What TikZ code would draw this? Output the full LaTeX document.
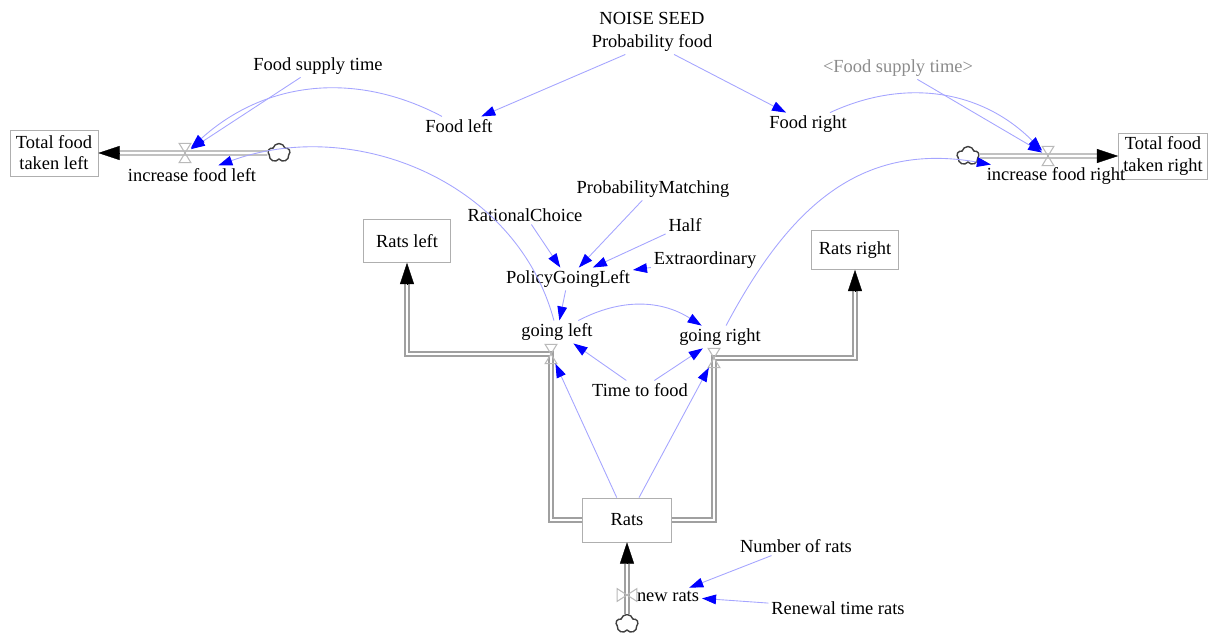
\documentclass[tikz,border=0pt]{standalone}
\usepackage{fontspec}
\setmainfont{Liberation Serif}
\usetikzlibrary{arrows.meta, shapes.symbols}

\begin{document}
\begin{tikzpicture}[
    x=0.02cm, y=0.02cm,
    every node/.style={font=\fontsize{10.5}{12}\selectfont, align=center, text=black, inner sep=1.5pt},
    stock/.style={
      rectangle, draw=stockGray, fill=white, line width=0.5pt, inner sep=2pt
    },
    pipe/.style={draw=pipeGray, double=white, double distance=1.6pt, line width=0.7pt},
    pipeTip/.style={draw=black, line width=0.2pt, -{Triangle[length=12pt, width=8pt]}},
    valveH/.style={rectangle, inner sep=0pt, minimum width=0.22cm, minimum height=0.37cm},
    valveV/.style={rectangle, inner sep=0pt, minimum width=0.38cm, minimum height=0.24cm},
    valveLine/.style={draw=valveGray, line width=0.6pt},
    source/.style={
      cloud, cloud puffs=5, cloud puff arc=150, aspect=1.15,
      draw=black!75, fill=white, line width=0.8pt, inner sep=0pt,
      minimum width=0.44cm, minimum height=0.38cm
    },
    link/.style={draw=linkBlue, line width=0.5pt,
      -{Triangle[length=8pt, width=5.5pt, color=blue, fill=blue]}},
    shadowVar/.style={text=black!45}
  ]
    \definecolor{pipeGray}{RGB}{160,160,160}
    \definecolor{stockGray}{RGB}{175,175,175}
    \definecolor{valveGray}{RGB}{185,185,185}
    \definecolor{linkBlue}{RGB}{165,165,255}

    \useasboundingbox (0,0) rectangle (1221,-635);

    \node[stock, minimum width=1.76cm, minimum height=0.92cm] (totalL) at (54,-153) {Total food\\taken left};
    \node[stock, minimum width=1.78cm, minimum height=0.92cm] (totalR) at (1163,-156) {Total food\\taken right};
    \node[stock, minimum width=1.74cm, minimum height=0.86cm] (ratsL) at (407,-241) {Rats left};
    \node[stock, minimum width=1.74cm, minimum height=0.78cm] (ratsR) at (855,-250) {Rats right};
    \node[stock, minimum width=1.78cm, minimum height=0.88cm] (rats) at (627,-520) {Rats};

    \coordinate (totalLin) at ([xshift=12pt]totalL.east);
    \coordinate (totalRin) at ([xshift=-12pt]totalR.west);
    \coordinate (ratsLin) at ([yshift=-12pt]ratsL.south);
    \coordinate (ratsRin) at ([yshift=-12pt]ratsR.south);
    \coordinate (ratsIn) at ([yshift=-12pt]rats.south);

    \node[valveH] (vFL) at (185,-153) {};
    \node[valveH] (vFR) at (1048,-156) {};
    \node[valveH] (vGL) at (551,-354) {};
    \node[valveH] (vGR) at (714,-358) {};
    \node[valveV] (vNR) at (627,-595) {};
    \node[source] (cloudFL) at (279,-153) {};
    \node[source] (cloudFR) at (968,-156) {};
    \node[source] (cloudNR) at (627,-624) {};

    \draw[pipe] (cloudFL) -- (vFL.center) -- (totalLin);
    \draw[pipe] (cloudFR) -- (vFR.center) -- (totalRin);
    \draw[pipe] (rats.west) -| (vGL.center) -| (ratsLin);
    \draw[pipe] (rats.east) -| (vGR.center) -| (ratsRin);
    \draw[pipe] (cloudNR) -- (vNR.center) -- (ratsIn);
    \draw[pipeTip] (totalLin) -- (totalL);
    \draw[pipeTip] (totalRin) -- (totalR);
    \draw[pipeTip] (ratsLin) -- (ratsL);
    \draw[pipeTip] (ratsRin) -- (ratsR);
    \draw[pipeTip] (ratsIn) -- (rats);

    \draw[valveLine] (vFL.north west) -- (vFL.north east) -- (vFL.south west) -- (vFL.south east) -- cycle;
    \draw[valveLine] (vFR.north west) -- (vFR.north east) -- (vFR.south west) -- (vFR.south east) -- cycle;
    \draw[valveLine] (vGL.north west) -- (vGL.north east) -- (vGL.south west) -- (vGL.south east) -- cycle;
    \draw[valveLine] (vGR.north west) -- (vGR.north east) -- (vGR.south west) -- (vGR.south east) -- cycle;
    \draw[valveLine] (vNR.north west) -- (vNR.south west) -- (vNR.north east) -- (vNR.south east) -- cycle;

    \node (noise) at (652,-18) {NOISE SEED};
    \node (probFood) at (652,-43) {Probability food};
    \node (supplyL) at (318,-66) {Food supply time};
    \node[shadowVar] (supplyR) at (898,-68) {\textless Food supply time\textgreater};
    \node (foodL) at (459,-126) {Food left};
    \node (foodR) at (808,-124) {Food right};
    \node (incL) at (192,-175) {increase food left};
    \node (incR) at (1056,-176) {increase food right};
    \node (rational) at (525,-215) {RationalChoice};
    \node (probMatch) at (653,-189) {ProbabilityMatching};
    \node (half) at (685,-225) {Half};
    \node (extra) at (705,-260) {Extraordinary};
    \node (policy) at (568,-279) {PolicyGoingLeft};
    \node (gLeft) at (557,-332) {going left};
    \node (gRight) at (720,-337) {going right};
    \node (timeFood) at (640,-390) {Time to food};
    \node (numRats) at (796,-546) {Number of rats};
    \node (newRats) at (668,-596) {new rats};
    \node (renewal) at (838,-608) {Renewal time rats};

    \draw[link] (supplyL) -- (vFL);
    \draw[link] (foodL) to[bend right=35] (vFL);
    \draw[link] (gLeft) to[out=105, in=20] (incL);
    \draw[link] (supplyR) -- (vFR);
    \draw[link] (foodR) to[bend left=35] (vFR);
    \draw[link] (gRight) to[out=62, in=170, looseness=1.1] (incR);
    \draw[link] (probFood) -- (foodL);
    \draw[link] (probFood) -- (foodR);
    \draw[link] (rational) -- (policy);
    \draw[link] (probMatch) -- (policy);
    \draw[link] (half) -- (policy);
    \draw[link] (extra) -- (policy);
    \draw[link] (policy) -- (gLeft);
    \draw[link] (gLeft) to[bend left=30] (gRight);
    \draw[link] (timeFood) -- (gLeft);
    \draw[link] (timeFood) -- (gRight);
    \draw[link] (rats) -- (vGL);
    \draw[link] (rats) -- (vGR);
    \draw[link] (numRats) -- (newRats);
    \draw[link] (renewal) -- (newRats);
  \end{tikzpicture}
\end{document}
